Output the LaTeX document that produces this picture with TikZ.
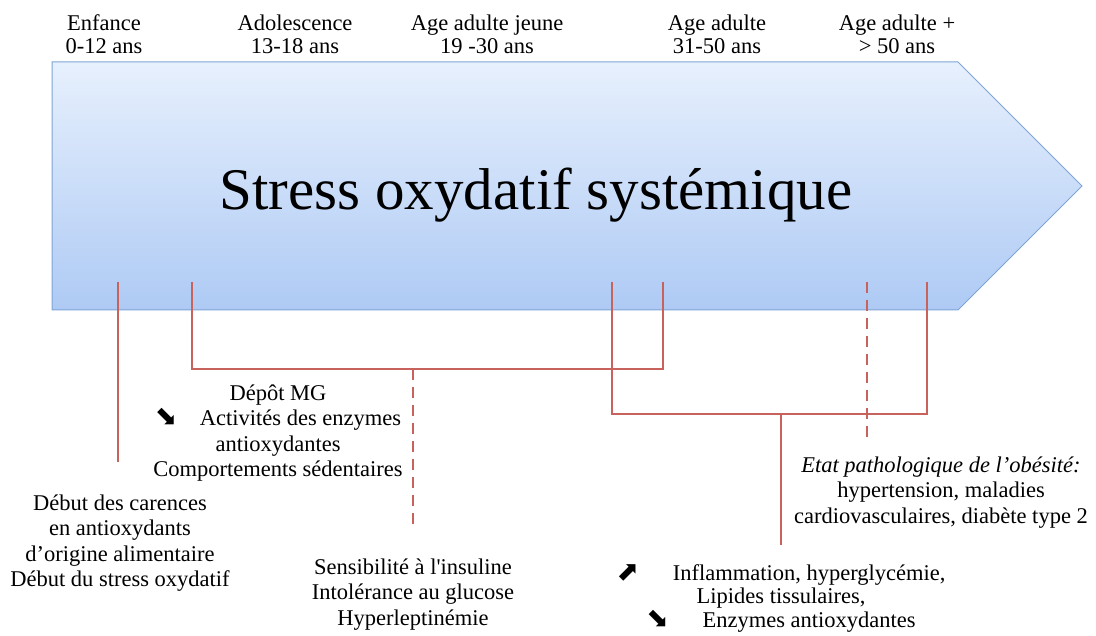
\documentclass[tikz,border=0pt]{standalone}
\usepackage{fontspec}
\setmainfont{Liberation Serif}
\newfontfamily\arrfont{DejaVu Sans}
\newcommand{\dnarr}{{\arrfont\fontsize{27}{27}\selectfont\smash{⬊}}}
\newcommand{\uparr}{{\arrfont\fontsize{27}{27}\selectfont\smash{⬈}}}
\definecolor{arrtop}{RGB}{231,240,253}
\definecolor{arrbot}{RGB}{174,202,244}
\definecolor{arrline}{RGB}{126,165,214}
\definecolor{redline}{RGB}{200,98,92}
\begin{document}
\begin{tikzpicture}[x=1pt,y=-1pt,
  agelabel/.style={anchor=north,align=center,inner sep=0pt,
    font=\fontsize{22.5}{23}\selectfont},
  txtblock/.style={anchor=north,align=center,inner sep=0pt,
    font=\fontsize{22.5}{25.5}\selectfont},
  conn/.style={draw=redline,line width=2.4pt},
  dconn/.style={conn,dash pattern=on 11pt off 7pt},
]
\useasboundingbox (0,0) rectangle (1096,636);
\fill[white] (0,0) rectangle (1096,636);

% big arrow
\shade[top color=arrtop,bottom color=arrbot]
  (52,62) -- (958,62) -- (1082,186) -- (958,310) -- (52,310) -- cycle;
\draw[arrline,line width=1pt]
  (52,62) -- (958,62) -- (1082,186) -- (958,310) -- (52,310) -- cycle;
\node[font=\fontsize{59}{60}\selectfont,anchor=base,inner sep=0pt] (title) at (536,210) {Stress oxydatif systémique};

% age labels
\node[agelabel] (enf) at (104,13.9) {\strut Enfance\\0-12 ans};
\node[agelabel] (ado) at (295,13.9) {\strut Adolescence\\13-18 ans};
\node[agelabel] (ajeune) at (487,13.9) {\strut Age adulte jeune\\19 -30 ans};
\node[agelabel] (adulte) at (717,13.9) {\strut Age adulte\\31-50 ans};
\node[agelabel] (adplus) at (897,13.9) {\strut Age adulte +\\> 50 ans};

% text blocks
\node[txtblock] (carences) at (120,492.2) {\strut Début des carences\\en antioxydants\\d’origine alimentaire\\Début du stress oxydatif};
\node[txtblock] (depot) at (278,382.2) {\strut Dépôt MG\\\dnarr\quad Activités des enzymes\\antioxydantes\\Comportements sédentaires};
\node[txtblock] (insul) at (413,556.2) {\strut Sensibilité à l\textquotesingle insuline\\Intolérance au glucose\\Hyperleptinémie};
\node[txtblock,font=\fontsize{22.5}{23.5}\selectfont] (inflam) at (781,563.5) {\strut \uparr\quad\ \ Inflammation, hyperglycémie,\\Lipides tissulaires,\\\dnarr\quad\ \ Enzymes antioxydantes};
\node[txtblock] (etat) at (941,454.2) {\strut\itshape Etat pathologique de l’obésité:\\hypertension, maladies\\cardiovasculaires, diabète type 2};

% connector points
\coordinate (p1) at (118,282);
\coordinate (e1) at (118,462);
\coordinate (a1) at (192,282);
\coordinate (a2) at (192,369);
\coordinate (a3) at (663,369);
\coordinate (a4) at (663,282);
\coordinate (am) at (413,369);
\coordinate (ae) at (413,530);
\coordinate (b1) at (612,282);
\coordinate (b2) at (612,414);
\coordinate (b3) at (927,414);
\coordinate (b4) at (927,282);
\coordinate (bm) at (781,414);
\coordinate (be) at (781,545);
\coordinate (d1) at (867,282);
\coordinate (d2) at (867,443);

\draw[conn] (p1) -- (e1);
\draw[conn] (a1) -- (a2) -- (a3) -- (a4);
\draw[dconn] (am) -- (ae);
\draw[conn] (b1) -- (b2) -- (b3) -- (b4);
\draw[conn] (bm) -- (be);
\draw[dconn] (d1) -- (d2);
\end{tikzpicture}
\end{document}
